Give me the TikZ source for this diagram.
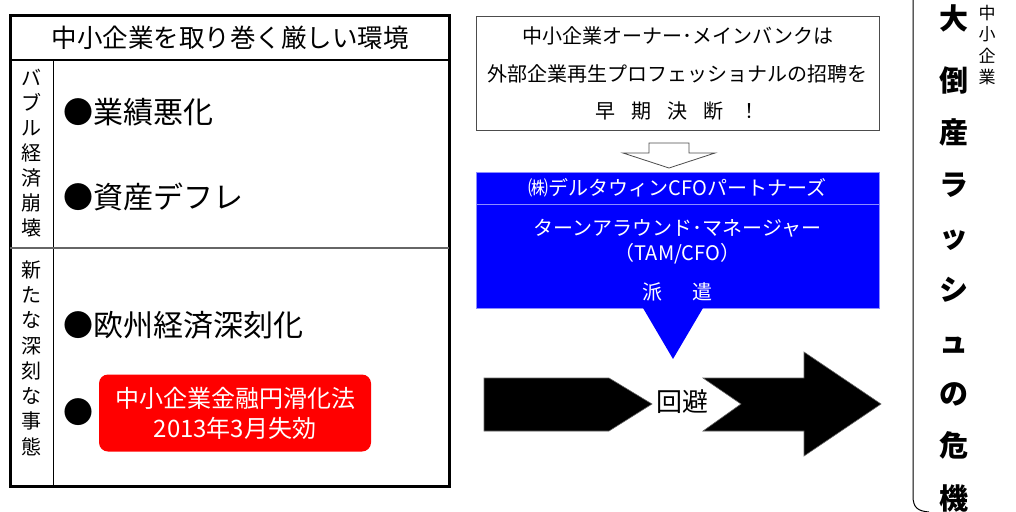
\documentclass[tikz,border=0pt]{standalone}
\usepackage{fontspec}
\setmainfont{Noto Sans CJK JP}
\usetikzlibrary{calc}

\begin{document}
\begin{tikzpicture}[x=1pt, y=-1pt,
	txt/.style={inner sep=0pt},
	vcol/.style={inner sep=0pt, align=center},
	wtxt/.style={inner sep=0pt, align=center, text=white, font=\fontsize{20}{25}\selectfont}]
			%%%%% START %%%%%
			\useasboundingbox (0, 0) rectangle (1016, 511);
			
			\draw[line width=3pt] (10, 16) rectangle (449, 486);
			\draw[line width=1.2pt] (10, 60) -- (449, 60);
			\draw[line width=0.8pt] (53, 60) -- (53, 486);
			\draw[line width=2pt, color=black!60] (10, 248) -- (449, 248);
			
			\node[txt, font=\fontsize{25.5}{30}\selectfont] (title) at (230, 38) {中小企業を取り巻く厳しい環境};
			\node[vcol, font=\fontsize{20}{25}\selectfont] (bubble) at (31, 153) {バ\\ブ\\ル\\経\\済\\崩\\壊};
			\node[vcol, font=\fontsize{20}{25.3}\selectfont] (crisis) at (31, 358) {新\\た\\な\\深\\刻\\な\\事\\態};
			
			\node[txt, anchor=west, font=\fontsize{30}{36}\selectfont] (perf) at (63, 112) {●業績悪化};
			\node[txt, anchor=west, font=\fontsize{30}{36}\selectfont] (defl) at (63, 197) {●資産デフレ};
			\node[txt, anchor=west, font=\fontsize{30}{36}\selectfont] (euro) at (63, 325) {●欧州経済深刻化};
			\node[txt, anchor=west, font=\fontsize{30}{36}\selectfont] (dot) at (63, 412) {●};
			\node[fill=red, rounded corners=9pt, minimum width=272, minimum height=77, align=center, text=white, font=\fontsize{24}{30}\selectfont] (law) at (235, 413) {中小企業金融円滑化法\\2013年3月失効};
			
			\node[draw=black!70, line width=1pt, minimum width=403, minimum height=113, align=center, font=\fontsize{20}{37.5}\selectfont] (ask) at (677.5, 73.5) {中小企業オーナー･メインバンクは\\外部企業再生プロフェッショナルの招聘を\\早\hspace{0.8em}期\hspace{0.8em}決\hspace{0.8em}断\hspace{0.8em}！};
			
			\draw[draw=black!70, line width=0.8pt, fill=white] (649, 143) -- (689, 143) -- (689, 153) -- (715, 153) -- (669, 168) -- (623, 153) -- (649, 153) -- cycle;
			
			\node[fill=blue, draw=blue!45!white, line width=0.8pt, minimum width=403, minimum height=32] (deltahead) at (677.5, 188) {};
			\node[fill=blue, draw=blue!45!white, line width=0.8pt, minimum width=403, minimum height=104] (deltabody) at (677.5, 256) {};
			\node[wtxt] (firm) at (deltahead.center) {㈱デルタウィンCFOパートナーズ};
			\node[wtxt] (tam) at (677.5, 260) {ターンアラウンド･マネージャー\\（TAM/CFO）\\[14pt]派\hspace{1.5em}遣};
			
			\fill[blue] (643, 308) -- (703, 308) -- (673, 359) -- cycle;
			
			\draw[draw=black!60, line width=0.6pt, fill=black] (484, 378) -- (609, 378) -- (652, 404) -- (609, 431) -- (484, 431) -- cycle;
			\draw[draw=black!60, line width=0.6pt, fill=black] (703, 378) -- (804, 378) -- (804, 352) -- (881, 404) -- (804, 456) -- (804, 431) -- (703, 431) -- (741, 404) -- cycle;
			\node[txt, font=\fontsize{26}{30}\selectfont] (avoid) at (682, 402) {回避};
			
			\draw[line width=1pt] (913, 0) -- (913, 496) .. controls (913, 508) and (918, 511) .. (929, 512);
			
			\node[txt, font=\bfseries\fontsize{29}{34}\selectfont] (dai) at (954, 18) {大};
			\node[vcol, font=\bfseries\fontsize{29}{52.25}\selectfont] (rush) at (954, 289) {倒\\産\\ラ\\ッ\\シ\\ュ\\の\\危\\機};
			\node[vcol, font=\fontsize{17}{21.5}\selectfont] (sme) at (987, 45) {中\\小\\企\\業};
			
			%%%%% END %%%%%
\end{tikzpicture}
\end{document}
